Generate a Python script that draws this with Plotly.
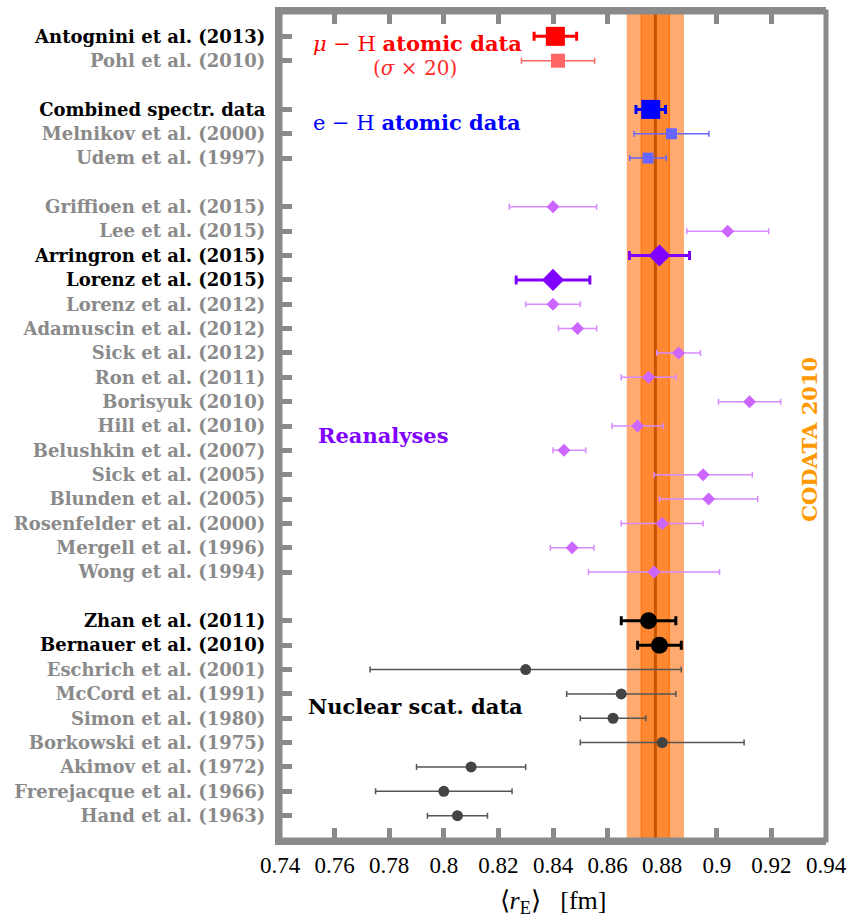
import plotly.graph_objects as go

# ---- proton charge radius determinations [fm] ----
muH_names = ["Antognini et al. (2013)", "Pohl et al. (2010)"]
muH_r = [0.84087, 0.84184]
muH_err = [0.0078, 0.0134]          # uncertainties scaled by 20

eH_names = ["Combined spectr. data", "Melnikov et al. (2000)", "Udem et al. (1997)"]
eH_r = [0.8758, 0.8834, 0.8748]
eH_err = [0.0054, 0.0137, 0.0067]

re_names = ["Griffioen et al. (2015)", "Lee et al. (2015)", "Arringron et al. (2015)",
            "Lorenz et al. (2015)", "Lorenz et al. (2012)", "Adamuscin et al. (2012)",
            "Sick et al. (2012)", "Ron et al. (2011)", "Borisyuk (2010)", "Hill et al. (2010)",
            "Belushkin et al. (2007)", "Sick et al. (2005)", "Blunden et al. (2005)",
            "Rosenfelder et al. (2000)", "Mergell et al. (1996)", "Wong et al. (1994)"]
re_r = [0.840, 0.904, 0.879, 0.840, 0.840, 0.849, 0.886, 0.875, 0.912, 0.871,
        0.844, 0.895, 0.897, 0.880, 0.847, 0.877]
re_err_plus = [0.016, 0.015, 0.011, 0.0135, 0.010, 0.007, 0.008, 0.010, 0.0114, 0.0094,
               0.008, 0.018, 0.018, 0.015, 0.008, 0.024]
re_err_minus = [0.016, 0.015, 0.011, 0.0135, 0.010, 0.007, 0.008, 0.010, 0.0114, 0.0094,
                0.004, 0.018, 0.018, 0.015, 0.008, 0.024]

ns_names = ["Zhan et al. (2011)", "Bernauer et al. (2010)", "Eschrich et al. (2001)",
            "McCord et al. (1991)", "Simon et al. (1980)", "Borkowski et al. (1975)",
            "Akimov et al. (1972)", "Frerejacque et al. (1966)", "Hand et al. (1963)"]
ns_r = [0.875, 0.879, 0.830, 0.865, 0.862, 0.880, 0.810, 0.800, 0.805]
ns_err = [0.010, 0.008, 0.057, 0.020, 0.012, 0.030, 0.020, 0.025, 0.011]

highlighted = ["Antognini et al. (2013)", "Combined spectr. data", "Arringron et al. (2015)",
               "Lorenz et al. (2015)", "Zhan et al. (2011)", "Bernauer et al. (2010)"]

codata_r = 0.8775
codata_err = 0.0051

x_ticks = [0.74, 0.76, 0.78, 0.80, 0.82, 0.84, 0.86, 0.88, 0.90, 0.92, 0.94]
x_ticktext = ["0.74", "0.76", "0.78", "0.8", "0.82", "0.84", "0.86", "0.88", "0.9", "0.92", "0.94"]

# ---- row layout: groups stacked top to bottom, one blank row between groups ----
groups = [muH_names, eH_names, re_names, ns_names]
row_of = {}
row = 0
for g in groups:
    for name in g:
        row_of[name] = row
        row += 1
    row += 1
n_rows = row - 1

SERIF = "DejaVu Serif"
NUMS = "Liberation Serif"
GRAY = "#8a8a8a"

fig = go.Figure()

# CODATA 2010 bands (2 sigma and 1 sigma) and central value
y_lo, y_hi = -1, n_rows
for k, col, lc in [(2, "#FFAA70", "#FFAA70"), (1, "#FF8833", "#FF7716")]:
    a, b = codata_r - k * codata_err, codata_r + k * codata_err
    fig.add_trace(go.Scatter(x=[a, b, b, a, a], y=[y_lo, y_lo, y_hi, y_hi, y_lo],
                             mode="lines", fill="toself", fillcolor=col,
                             line=dict(color=lc, width=1.5), hoverinfo="skip",
                             showlegend=False))
fig.add_trace(go.Scatter(x=[codata_r, codata_r], y=[y_lo, y_hi], mode="lines",
                         line=dict(color="#C65400", width=3), hoverinfo="skip",
                         showlegend=False))


def add_points(names, r, ep, em, symbol, color, barcolor, size, thick, capw):
    fig.add_trace(go.Scatter(
        x=r, y=[row_of[n] for n in names], mode="markers",
        marker=dict(symbol=symbol, color=color, size=size, line=dict(width=0)),
        error_x=dict(type="data", symmetric=False, array=ep, arrayminus=em,
                     color=barcolor, thickness=thick, width=capw),
        showlegend=False, hovertext=names))


def split(names, r, ep, em, hl):
    idx = [i for i, n in enumerate(names) if (n in highlighted) == hl]
    return ([names[i] for i in idx], [r[i] for i in idx],
            [ep[i] for i in idx], [em[i] for i in idx])


# mu-H
n, r, ep, em = split(muH_names, muH_r, muH_err, muH_err, False)
add_points(n, r, ep, em, "square", "#FF6666", "#FF6666", 14, 1.5, 3)
n, r, ep, em = split(muH_names, muH_r, muH_err, muH_err, True)
add_points(n, r, ep, em, "square", "#FF0000", "#FF0000", 19, 3, 4.5)
# e-H
n, r, ep, em = split(eH_names, eH_r, eH_err, eH_err, False)
add_points(n, r, ep, em, "square", "#6666FF", "#6666FF", 11, 1.5, 3)
n, r, ep, em = split(eH_names, eH_r, eH_err, eH_err, True)
add_points(n, r, ep, em, "square", "#0000FF", "#0000FF", 19, 3, 4.5)
# reanalyses
n, r, ep, em = split(re_names, re_r, re_err_plus, re_err_minus, False)
add_points(n, r, ep, em, "diamond", "#CC66FF", "#D88AFF", 10, 1.5, 3)
n, r, ep, em = split(re_names, re_r, re_err_plus, re_err_minus, True)
add_points(n, r, ep, em, "diamond", "#8000FF", "#8000FF", 17, 3, 4.5)
# nuclear scattering
n, r, ep, em = split(ns_names, ns_r, ns_err, ns_err, False)
add_points(n, r, ep, em, "circle", "#444444", "#555555", 11, 1.5, 3)
n, r, ep, em = split(ns_names, ns_r, ns_err, ns_err, True)
add_points(n, r, ep, em, "circle", "#000000", "#000000", 17, 3, 4.5)

all_names = [nm for g in groups for nm in g]
tickvals = [row_of[nm] for nm in all_names]
ticktext = [f"<b>{nm}</b>" if nm in highlighted
            else f"<span style='color:{GRAY}'><b>{nm}</b></span>" for nm in all_names]

fig.update_layout(
    width=856, height=918,
    margin=dict(l=280, r=30, t=12, b=78),
    plot_bgcolor="white", paper_bgcolor="white",
    font=dict(family=SERIF, color="black"),
    xaxis=dict(range=[0.74, 0.94], tickvals=x_ticks, ticktext=x_ticktext,
               ticks="inside", ticklen=12, tickwidth=5, tickcolor=GRAY,
               showline=True, linecolor=GRAY, linewidth=5, mirror="ticks",
               showgrid=False, zeroline=False, layer="below traces",
               automargin=False,
               tickfont=dict(family=NUMS, size=23, color="black"),
               title=dict(text="⟨<i>r</i><sub>E</sub>⟩&nbsp;&nbsp;&nbsp;[fm]",
                          font=dict(family=NUMS, size=26), standoff=16)),
    yaxis=dict(range=[n_rows, -1], tickvals=tickvals, ticktext=ticktext,
               ticks="inside", ticklen=12, tickwidth=5, tickcolor=GRAY,
               showline=True, linecolor=GRAY, linewidth=5,
               showgrid=False, zeroline=False, layer="below traces",
               automargin=False, ticklabelstandoff=6,
               tickfont=dict(family=SERIF, size=18, color="black")),
)

# frame on top of the bands
fig.add_shape(type="rect", xref="paper", yref="paper", x0=0, x1=1, y0=0, y1=1,
              line=dict(color=GRAY, width=5), layer="above")

# group captions
fig.add_annotation(x=0.7515, y=row_of[muH_names[0]] + 0.3, xref="x", yref="y",
                   text="<i>μ</i> − H <b>atomic data</b>", showarrow=False,
                   xanchor="left", font=dict(family=SERIF, size=21, color="#FF0000"))
fig.add_annotation(x=0.7895, y=row_of[muH_names[1]] + 0.3, xref="x", yref="y",
                   text="(<i>σ</i> × 20)", showarrow=False,
                   xanchor="center", font=dict(family=SERIF, size=20, color="#FF2A2A"))
fig.add_annotation(x=0.7515, y=row_of[eH_names[0]] + 0.52, xref="x", yref="y",
                   text="e − H <b>atomic data</b>", showarrow=False,
                   xanchor="left", font=dict(family=SERIF, size=21, color="#0000FF"))
fig.add_annotation(x=0.7531, y=row_of["Hill et al. (2010)"] + 0.37, xref="x", yref="y",
                   text="<b>Reanalyses</b>", showarrow=False,
                   xanchor="left", font=dict(family=SERIF, size=21, color="#8000FF"))
fig.add_annotation(x=0.7497, y=row_of["McCord et al. (1991)"] + 0.5, xref="x", yref="y",
                   text="<b>Nuclear scat. data</b>", showarrow=False,
                   xanchor="left", font=dict(family=SERIF, size=21, color="black"))
fig.add_annotation(x=0.934, y=row_of["Hill et al. (2010)"] + 0.54, xref="x", yref="y",
                   text="<b>CODATA 2010</b>", showarrow=False, textangle=-90,
                   font=dict(family=SERIF, size=21, color="#FF9900"))

fig.write_html("out.html")
